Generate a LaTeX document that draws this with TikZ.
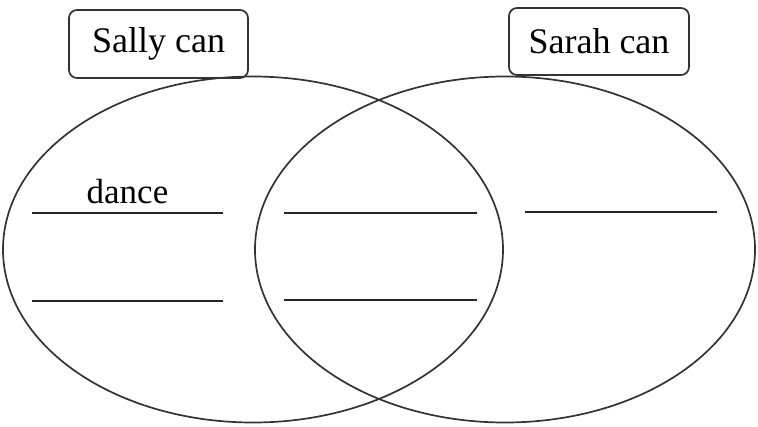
\documentclass[tikz,border=0pt]{standalone}
\usepackage{fontspec}
\setmainfont{Liberation Serif}
\usetikzlibrary{positioning}

\begin{document}
\begin{tikzpicture}[x=1pt, y=-1pt, line width=1.7pt, draw=black!80,
    labelbox/.style={draw, rounded corners=8pt, inner sep=0pt, font=\fontsize{36}{40}\selectfont},
    blank/.style={line width=2pt, draw=black!85}]
            \useasboundingbox (0,0) rectangle (758,426);

            % Venn circles
            \draw (253,249.5) ellipse [x radius=250, y radius=173];
            \draw (505,249.5) ellipse [x radius=250, y radius=173];

            % Titles
            \node[labelbox, minimum width=179pt, minimum height=68pt] (sally) at (158.5,44) {Sally can};
            \node[labelbox, minimum width=180pt, minimum height=67pt] (sarah) at (599,41.5) {Sarah can};

            % Sally only
            \coordinate (l1a) at (32,213);  \coordinate (l1b) at (223,213);
            \coordinate (l2a) at (32,301);  \coordinate (l2b) at (223,301);
            \draw[blank] (l1a) -- (l1b);
            \draw[blank] (l2a) -- (l2b);
            \node[anchor=base, font=\fontsize{35}{40}\selectfont] (dance) at (127.5,203) {dance};

            % Both
            \coordinate (m1a) at (284,213);  \coordinate (m1b) at (477,213);
            \coordinate (m2a) at (284,300);  \coordinate (m2b) at (477,300);
            \draw[blank] (m1a) -- (m1b);
            \draw[blank] (m2a) -- (m2b);

            % Sarah only
            \coordinate (r1a) at (525,212);  \coordinate (r1b) at (717,212);
            \draw[blank] (r1a) -- (r1b);
        \end{tikzpicture}
\end{document}
